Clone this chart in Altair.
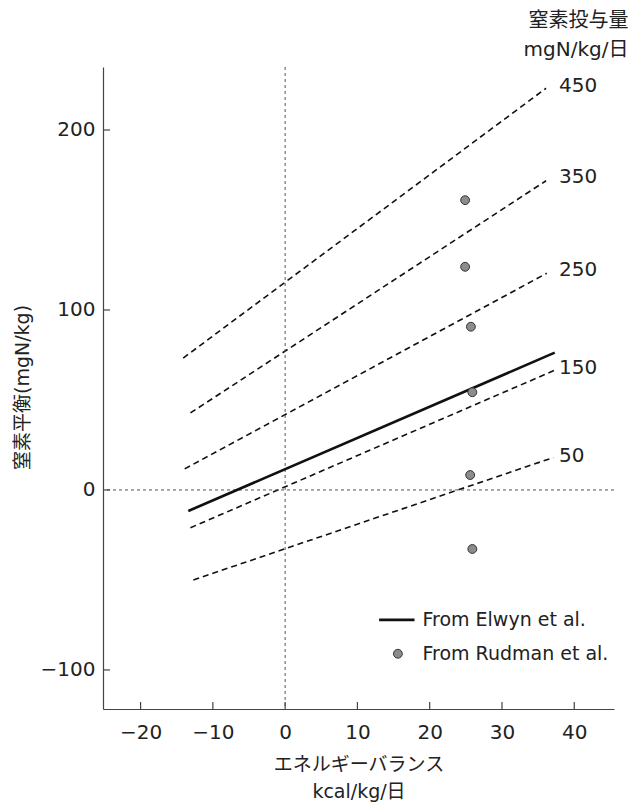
import altair as alt
import pandas as pd

FONT = "DejaVu Sans, Noto Sans CJK JP, sans-serif"

# Nitrogen intake lines (mgN/kg/day)
doses = [450, 350, 250, 150, 50]
dose_x_start = [-14.1, -13.1, -13.9, -13.1, -12.7]
dose_y_start = [73.3, 42.8, 11.7, -21.0, -50.0]
dose_x_end = [36.1, 36.1, 36.2, 37.4, 37.1]
dose_y_end = [223.2, 171.8, 120.4, 66.7, 18.0]
dose_label_x = [37.9, 37.9, 37.9, 37.9, 37.9]
dose_label_y = [224.4, 174.1, 122.2, 68.0, 18.9]

# Elwyn et al. regression line
elwyn_x = [-13.4, 37.3]
elwyn_y = [-11.7, 76.3]

# Rudman et al. points
rudman_x = [24.9, 24.9, 25.7, 25.9, 25.6, 25.9]
rudman_y = [161.0, 124.0, 90.7, 54.3, 8.3, -32.8]

x_ticks = [-20, -10, 0, 10, 20, 30, 40]
y_ticks = [-100, 0, 100, 200]
x_domain = [-25.2, 45.5]
y_domain = [-121.7, 235.0]

header_lines = ["窒素投与量", "mgN/kg/日"]
header_x = [47.5, 47.5]
header_y = [260.7, 244.4]

legend_labels = ["From Elwyn et al.", "From Rudman et al."]
legend_line_x = [13.0, 17.9]
legend_line_y = [-72.2, -72.2]
legend_point_x = [15.6]
legend_point_y = [-91.0]
legend_text_x = [19.0, 19.0]
legend_text_y = [-72.2, -91.0]

rows = []
for d, xs, ys, xe, ye in zip(doses, dose_x_start, dose_y_start, dose_x_end, dose_y_end):
    rows.append({"dose": d, "x": xs, "y": ys})
    rows.append({"dose": d, "x": xe, "y": ye})
lines_df = pd.DataFrame(rows)
labels_df = pd.DataFrame({"dose": [str(d) for d in doses], "x": dose_label_x, "y": dose_label_y})
elwyn_df = pd.DataFrame({"x": elwyn_x, "y": elwyn_y})
rudman_df = pd.DataFrame({"x": rudman_x, "y": rudman_y})
header_df = pd.DataFrame({"t": header_lines, "x": header_x, "y": header_y})
leg_line_df = pd.DataFrame({"x": legend_line_x, "y": legend_line_y})
leg_pt_df = pd.DataFrame({"x": legend_point_x, "y": legend_point_y})
leg_text_df = pd.DataFrame({"t": legend_labels, "x": legend_text_x, "y": legend_text_y})
xt_df = pd.DataFrame({"v": x_ticks, "y": [y_domain[0]] * len(x_ticks)})
yt_df = pd.DataFrame({"v": y_ticks, "x": [x_domain[0]] * len(y_ticks)})

xs = alt.Scale(domain=x_domain, nice=False, zero=False)
ys = alt.Scale(domain=y_domain, nice=False, zero=False)

X = alt.X("x:Q", scale=xs, axis=alt.Axis(
    values=x_ticks, ticks=False, tickSize=0, grid=False, labelPadding=13,
    title=["エネルギーバランス", "kcal/kg/日"], titleFontSize=19, titleFontWeight="normal",
    titleFont=FONT, titleColor="#222", titleY=46, titleBaseline="top", titleLineHeight=27,
))
Y = alt.Y("y:Q", scale=ys, axis=alt.Axis(
    values=y_ticks, ticks=False, tickSize=0, grid=False, labelPadding=8,
    title="窒素平衡(mgN/kg)", titleFontSize=19, titleFontWeight="normal",
    titleFont=FONT, titleColor="#222", titleX=-81, titleY=320,
    titleAlign="center", titleBaseline="middle", titleAngle=270,
))

ref_v = alt.Chart(pd.DataFrame({"x": [0]})).mark_rule(
    color="#555", strokeWidth=1, strokeDash=[3, 3]).encode(x=alt.X("x:Q", scale=xs))
ref_h = alt.Chart(pd.DataFrame({"y": [0]})).mark_rule(
    color="#555", strokeWidth=1, strokeDash=[3, 3]).encode(y=alt.Y("y:Q", scale=ys))

dose_lines = alt.Chart(lines_df).mark_line(
    color="#111", strokeWidth=1.6, strokeDash=[6, 4]).encode(
    x=X, y=Y, detail="dose:N")

dose_labels = alt.Chart(labels_df).mark_text(
    align="left", baseline="middle", fontSize=20, font=FONT, color="#222").encode(
    x=alt.X("x:Q", scale=xs), y=alt.Y("y:Q", scale=ys), text="dose:N")

elwyn = alt.Chart(elwyn_df).mark_line(color="#111", strokeWidth=2.6).encode(
    x=alt.X("x:Q", scale=xs), y=alt.Y("y:Q", scale=ys))

rudman = alt.Chart(rudman_df).mark_point(
    filled=True, fill="#8c8c8c", stroke="#333", strokeWidth=1, size=78, opacity=1).encode(
    x=alt.X("x:Q", scale=xs), y=alt.Y("y:Q", scale=ys))

header = alt.Chart(header_df).mark_text(
    align="right", baseline="middle", fontSize=20, font=FONT, color="#222").encode(
    x=alt.X("x:Q", scale=xs), y=alt.Y("y:Q", scale=ys), text="t:N")

leg_line = alt.Chart(leg_line_df).mark_line(color="#111", strokeWidth=2.6).encode(
    x=alt.X("x:Q", scale=xs), y=alt.Y("y:Q", scale=ys))
leg_pt = alt.Chart(leg_pt_df).mark_point(
    filled=True, fill="#8c8c8c", stroke="#333", strokeWidth=1, size=78, opacity=1).encode(
    x=alt.X("x:Q", scale=xs), y=alt.Y("y:Q", scale=ys))
leg_text = alt.Chart(leg_text_df).mark_text(
    align="left", baseline="middle", fontSize=19, font=FONT, color="#222").encode(
    x=alt.X("x:Q", scale=xs), y=alt.Y("y:Q", scale=ys), text="t:N")

x_tick_marks = alt.Chart(xt_df).mark_rule(color="#444", strokeWidth=1.2, y2Offset=-7).encode(
    x=alt.X("v:Q", scale=xs), y=alt.Y("y:Q", scale=ys), y2="y:Q")
y_tick_marks = alt.Chart(yt_df).mark_rule(color="#444", strokeWidth=1.2, x2Offset=7).encode(
    y=alt.Y("v:Q", scale=ys), x=alt.X("x:Q", scale=xs), x2="x:Q")

chart = alt.layer(
    dose_lines, ref_v, ref_h, elwyn, rudman, dose_labels, header,
    leg_line, leg_pt, leg_text, x_tick_marks, y_tick_marks,
).properties(
    width=511, height=642,
    autosize=alt.AutoSizeParams(type="none"),
    padding={"left": 95, "top": 59, "right": 22, "bottom": 93},
).configure_view(stroke=None).configure_axis(
    domainColor="#444", domainWidth=1.2, labelFont=FONT, labelFontSize=20,
    labelColor="#222",
)

chart.save("out.html", embed_options={"renderer": "svg", "actions": False})
